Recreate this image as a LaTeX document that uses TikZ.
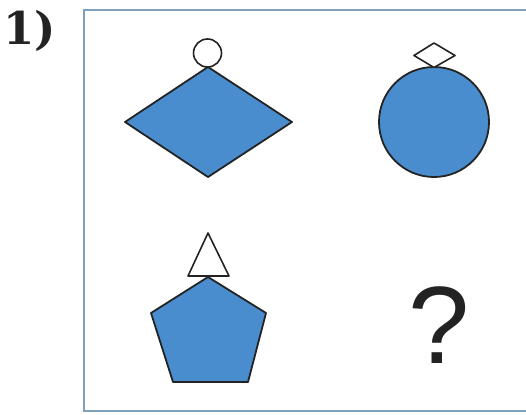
\documentclass[tikz,border=0pt]{standalone}
\usepackage{fontspec}
\newfontfamily\qfont{Liberation Sans}
\newfontfamily\lblfont{DejaVu Serif}
\definecolor{shapeblue}{RGB}{74,141,206}
\definecolor{framecol}{RGB}{125,160,188}
\definecolor{inkcol}{RGB}{35,35,35}
\begin{document}
\begin{tikzpicture}[x=1pt,y=-1pt,
  filled/.style={draw=inkcol,line width=1.8pt,fill=shapeblue,line join=round},
  hollow/.style={draw=inkcol,line width=1.6pt,fill=white,line join=round},
  framestyle/.style={draw=framecol,line width=2.2pt}]
\useasboundingbox (0,0) rectangle (526,414);
\fill[white] (0,0) rectangle (526,414);
% frame
\draw[framestyle] (530,10) -- (84,10) -- (84,411) -- (530,411);
% label
\node[inner sep=0,anchor=base west,text=inkcol] (lbl) at (3,45) {\lblfont\bfseries\fontsize{45}{45}\selectfont 1)};
% rhombus with small circle
\coordinate (rc) at (208,122);
\draw[filled] (125,122) -- (208,67) -- (292,122) -- (208,177) -- cycle;
\draw[hollow] (207.5,53) circle[radius=14];
% circle with small diamond
\coordinate (cc) at (434,122);
\draw[filled] (cc) circle[radius=55];
\draw[hollow] (414,55.5) -- (434,43) -- (455,55.5) -- (434,67.5) -- cycle;
% pentagon with triangle
\draw[hollow] (208,233) -- (229,276) -- (188,276) -- cycle;
\draw[filled] (208,277) -- (266,313) -- (248,382) -- (173,382) -- (151,313) -- cycle;
% question mark
\node[inner sep=0,anchor=base,text=inkcol] (q) at (439,363) {\qfont\fontsize{110}{110}\selectfont ?};
\end{tikzpicture}
\end{document}
